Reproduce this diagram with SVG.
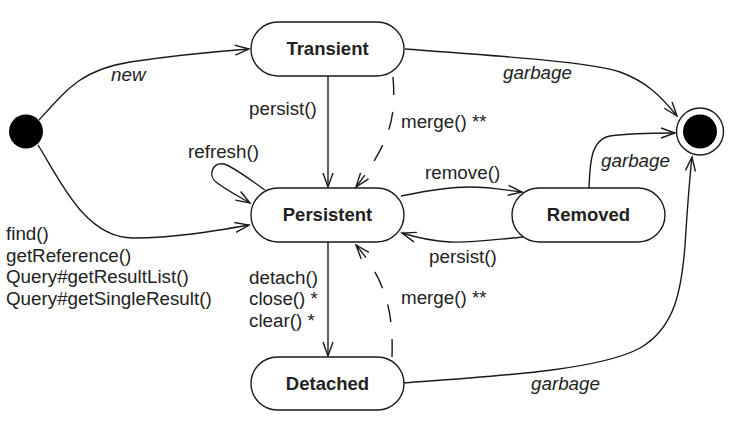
<svg xmlns="http://www.w3.org/2000/svg" width="745" height="427" viewBox="0 0 745 427">
<style>
.state{fill:#fff;stroke:#1a1a1a;stroke-width:1.4}
.name{font-family:"Liberation Sans",Arial,sans-serif;font-weight:bold;font-size:18.5px;fill:#222;text-anchor:middle}
.lbl{font-family:"Liberation Sans",Arial,sans-serif;font-size:18.8px;fill:#222}
.it{font-style:italic}
.edge{fill:none;stroke:#1a1a1a;stroke-width:1.4;marker-end:url(#arr)}
.dash{stroke-dasharray:18 17}
</style>
<defs>
<marker id="arr" viewBox="-16 -7 18 14" refX="0" refY="0" markerWidth="18" markerHeight="14" markerUnits="userSpaceOnUse" orient="auto">
<path d="M-14,-5 L0,0 L-14,5" fill="none" stroke="#1a1a1a" stroke-width="1.4"/>
</marker>
</defs>
<rect width="745" height="427" fill="#fff"/>
<g id="connectors">
<path class="edge" d="M39,120 C68,88 82,70 130,62 C170,56 210,52 249,49"/>
<path class="edge" d="M38,145 C60,180 85,238 133,238 C175,238 215,231 249,225"/>
<path class="edge" d="M405,49 C500,56 590,62 620,72 C645,81 660,95 677,116"/>
<path class="edge" d="M328,76 L328,187"/>
<path class="edge dash" d="M393,77 C396,115 392,140 356,187"/>
<path class="edge" d="M265,190 C245,176 232,166 224,164 C212,162 208,176 216,182 C226,190 240,197 250,203"/>
<path class="edge" d="M401,196 C430,190 450,187 470,187 C490,187 505,190 522,192"/>
<path class="edge" d="M523,237 C490,240 470,243 450,242 C430,241 415,237 402,233"/>
<path class="edge" d="M589,188 C590,165 590,140 610,136 C630,133 650,133 675,133"/>
<path class="edge" d="M403,383 C500,376 600,370 640,348 C675,328 683,290 686,230 C688,200 690,175 692,157"/>
<path class="edge" d="M328,242 L328,356"/>
<path class="edge dash" d="M392,357 C393,320 390,285 356,245"/>
</g>
<g id="initial"><circle cx="26" cy="131.5" r="17" fill="#000"/></g>
<g id="final"><circle cx="700" cy="131.5" r="23.5" fill="#fff" stroke="#1a1a1a" stroke-width="1.4"/><circle cx="700" cy="131.5" r="17" fill="#000"/></g>
<g id="transient"><rect class="state" x="251" y="22" width="153" height="54" rx="27"/><text class="name" x="327.5" y="54.5">Transient</text></g>
<g id="persistent"><rect class="state" x="251" y="188" width="153" height="54" rx="27"/><text class="name" x="327.5" y="220.5">Persistent</text></g>
<g id="removed"><rect class="state" x="512" y="188" width="153" height="54" rx="27"/><text class="name" x="588.5" y="220.5">Removed</text></g>
<g id="detached"><rect class="state" x="251" y="357" width="153" height="53" rx="26.5"/><text class="name" x="327.5" y="389.5">Detached</text></g>
<g id="labels">
<text class="lbl it" x="111" y="81">new</text>
<text class="lbl it" x="503" y="79">garbage</text>
<text class="lbl" x="249" y="115">persist()</text>
<text class="lbl" x="401" y="128">merge() **</text>
<text class="lbl" x="188" y="158">refresh()</text>
<text class="lbl" x="425" y="178.5">remove()</text>
<text class="lbl it" x="601" y="167">garbage</text>
<text class="lbl" x="6" y="240">find()</text>
<text class="lbl" x="6" y="261.5">getReference()</text>
<text class="lbl" x="6" y="283">Query#getResultList()</text>
<text class="lbl" x="6" y="304.5">Query#getSingleResult()</text>
<text class="lbl" x="429" y="263">persist()</text>
<text class="lbl" x="249" y="283.5">detach()</text>
<text class="lbl" x="249" y="305">close() *</text>
<text class="lbl" x="249" y="326.5">clear() *</text>
<text class="lbl" x="401" y="304">merge() **</text>
<text class="lbl it" x="531" y="389.5">garbage</text>
</g>
</svg>
